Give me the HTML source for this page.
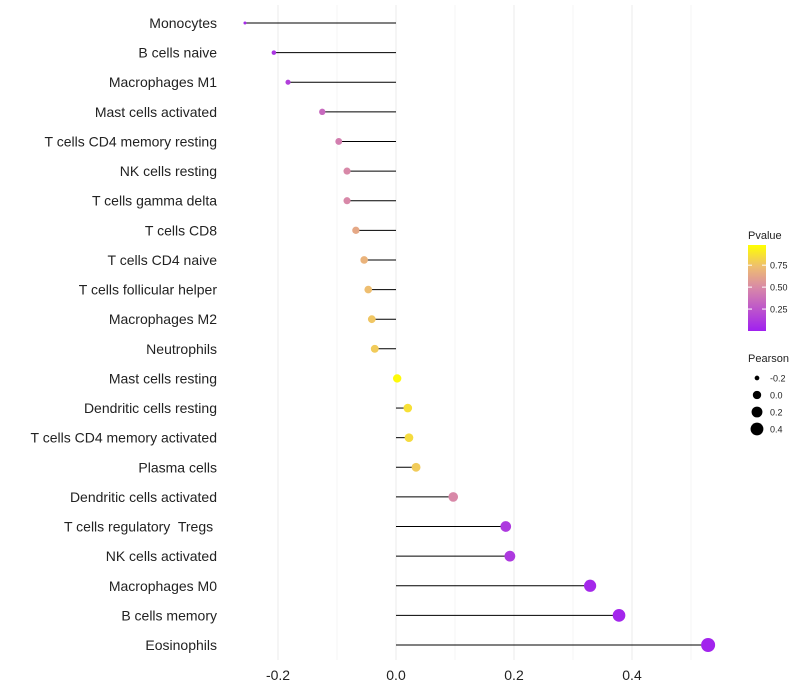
<!DOCTYPE html>
<html><head><meta charset="utf-8"><style>
body{margin:0;background:#fff;font-family:"Liberation Sans",Arial,sans-serif}
text{white-space:pre}
</style></head><body>
<svg id="chart" width="800" height="700" style="display:block"></svg>
<script>
const categories=["Monocytes","B cells naive","Macrophages M1","Mast cells activated","T cells CD4 memory resting","NK cells resting","T cells gamma delta","T cells CD8","T cells CD4 naive","T cells follicular helper","Macrophages M2","Neutrophils","Mast cells resting","Dendritic cells resting","T cells CD4 memory activated","Plasma cells","Dendritic cells activated","T cells regulatory  Tregs ","NK cells activated","Macrophages M0","B cells memory","Eosinophils"];
const pearson=[-0.256,-0.207,-0.183,-0.125,-0.097,-0.083,-0.083,-0.068,-0.054,-0.047,-0.041,-0.036,0.002,0.020,0.022,0.034,0.097,0.186,0.193,0.329,0.378,0.529];
const pvalue=[0.05,0.1,0.15,0.35,0.45,0.5,0.5,0.65,0.7,0.75,0.78,0.8,0.98,0.88,0.86,0.8,0.5,0.12,0.12,0.04,0.03,0.02];
const xTicks=[-0.2,0,0.2,0.4];
const pTicks=[0.25,0.5,0.75];
const sizeTicks=[-0.2,0,0.2,0.4];
const NS="http://www.w3.org/2000/svg",svg=document.getElementById('chart');
function mk(t,a,p){const e=document.createElementNS(NS,t);for(const k in a)e.setAttribute(k,a[k]);(p||svg).appendChild(e);return e;}
const xs=v=>396+v*590;
const ys=i=>23+i*(622/21);
const rs=v=>Math.sqrt(Math.max(0.5,2.25+(v+0.256)*59.6));
const stops=[[0,[160,32,240]],[0.5,[216,136,168]],[0.75,[238,190,112]],[1,[255,255,0]]];
function col(p){for(let i=1;i<stops.length;i++){if(p<=stops[i][0]){const[a,c0]=stops[i-1],[b,c1]=stops[i];const t=(p-a)/(b-a);return 'rgb('+c0.map((c,j)=>Math.round(c+(c1[j]-c)*t)).join(',')+')';}}return 'rgb(255,255,0)';}
for(let k=-2;k<=5;k++){const v=k/10;const g=mk('line',{x1:xs(v),x2:xs(v),y1:5,y2:660,stroke:'#ebebeb','stroke-width':k%2===0?1:0.5});

}
xTicks.forEach(v=>{const t=mk('text',{x:xs(v),y:680,'text-anchor':'middle','font-size':14,fill:'#222'});t.textContent=v===0?'0.0':v.toFixed(1);

});
categories.forEach((c,i)=>{const y=ys(i);
const t=mk('text',{x:217,y:y+5,'text-anchor':'end','font-size':14,fill:'#222'});t.textContent=c;


const l=mk('line',{x1:xs(0),x2:xs(pearson[i]),y1:y,y2:y,stroke:'#000','stroke-width':1});


const d=mk('circle',{cx:xs(pearson[i]),cy:y,r:rs(pearson[i]),fill:col(pvalue[i])});

});
let t=mk('text',{x:748,y:239,'font-size':11,fill:'#222'});t.textContent='Pvalue';


const defs=mk('defs',{});const lg=mk('linearGradient',{id:'pg',x1:0,y1:1,x2:0,y2:0},defs);
stops.forEach(s=>mk('stop',{offset:s[0],'stop-color':'rgb('+s[1].join(',')+')'},lg));
const bar=mk('rect',{x:748,y:245,width:18,height:86,fill:'url(#pg)'});


pTicks.forEach(p=>{const y=331-p*86/0.98;mk('line',{x1:748,x2:752,y1:y,y2:y,stroke:'#fff'});mk('line',{x1:762,x2:766,y1:y,y2:y,stroke:'#fff'});
const tt=mk('text',{x:770,y:y+3.5,'font-size':9,fill:'#222'});tt.textContent=p.toFixed(2);

});
t=mk('text',{x:748,y:362,'font-size':11,fill:'#222'});t.textContent='Pearson';


sizeTicks.forEach((v,i)=>{const y=378+i*17;const c=mk('circle',{cx:757,cy:y,r:rs(v),fill:'#000'});


const tt=mk('text',{x:770,y:y+3.5,'font-size':9,fill:'#222'});tt.textContent=v===0?'0.0':v.toFixed(1);

});
</script></body></html>
